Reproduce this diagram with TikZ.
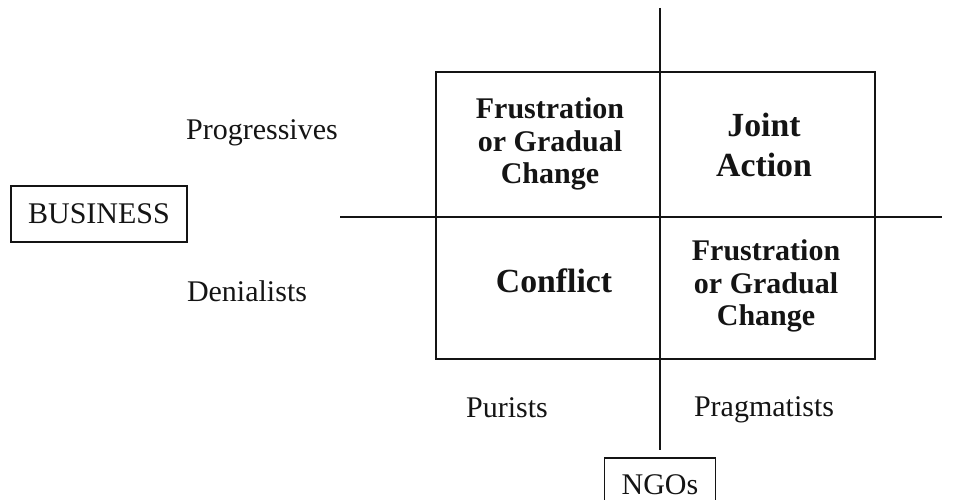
\documentclass[tikz,border=0pt]{standalone}
\usepackage{fontspec}
\setmainfont{Liberation Serif}
\usepackage{tikz}
\usepackage{xcolor}
\usetikzlibrary{positioning,calc}
\definecolor{ink}{HTML}{141414}
\tikzset{
  axisline/.style={draw=ink, line width=0.75pt},
  actorbox/.style={draw=ink, line width=0.6pt, inner sep=0pt, text=ink,
                   font=\fontsize{12}{14}\selectfont},
  grouplabel/.style={text=ink, inner sep=0pt, font=\fontsize{12}{14}\selectfont},
  quadlabel/.style={text=ink, align=center, inner sep=0pt,
                    font=\bfseries\fontsize{12}{13}\selectfont},
  quadbig/.style={text=ink, align=center, inner sep=0pt,
                  font=\bfseries\fontsize{13.5}{16}\selectfont}
}

\begin{document}
\begin{tikzpicture}[x=0.4pt,y=-0.4pt]
        \useasboundingbox (0,0) rectangle (957,499);
        \clip (0,0) rectangle (957,499);

        % outcome matrix
        \draw[axisline] (436,72) rectangle (875,359);
        \coordinate (vtop) at (660,8);
        \coordinate (hleft) at (340,217);
        \coordinate (hright) at (942,217);

        \node[quadlabel] (tl) at (550,144) {Frustration\\or Gradual\\Change};
        \node[quadbig]   (tr) at (764,145) {Joint\\Action};
        \node[quadbig]   (bl) at (554,281) {Conflict};
        \node[quadlabel] (br) at (766,286) {Frustration\\or Gradual\\Change};

        % business side
        \node[actorbox, minimum width=70.4pt, minimum height=22.4pt]
          (business) at (99,214) {BUSINESS};
        \node[grouplabel] (progressives) at (262,133) {Progressives};
        \node[grouplabel] (denialists) at (247,291) {Denialists};

        % ngo side
        \node[actorbox, anchor=north, minimum width=44.4pt, minimum height=21.6pt]
          (ngos) at (660,457) {NGOs};
        \node[grouplabel] (purists) at (507,408) {Purists};
        \node[grouplabel] (pragmatists) at (764,410) {Pragmatists};

        \draw[axisline] (vtop) -- ([yshift=2.8pt]ngos.north);
        \draw[axisline] (hleft) -- (hright);
      \end{tikzpicture}
\end{document}
